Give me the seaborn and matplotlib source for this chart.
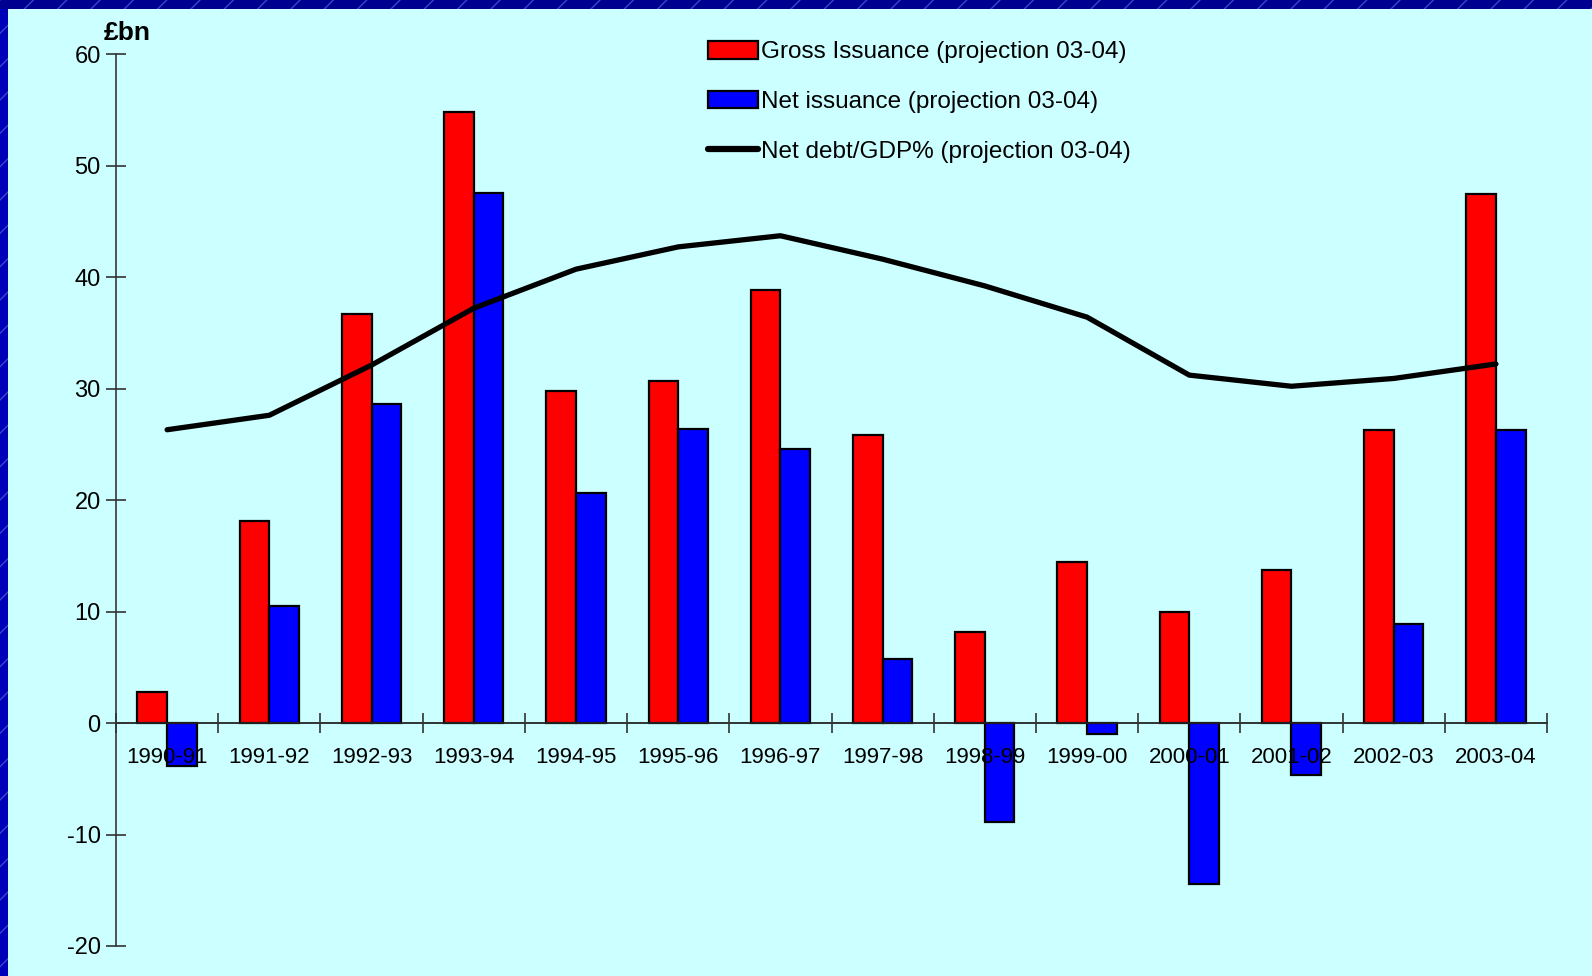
import numpy as np
import pandas as pd
import matplotlib
matplotlib.use("Agg")
import matplotlib.pyplot as plt
from matplotlib.patches import Rectangle, Patch
from matplotlib.lines import Line2D
import seaborn as sns

years = ["1990-91", "1991-92", "1992-93", "1993-94", "1994-95", "1995-96", "1996-97",
         "1997-98", "1998-99", "1999-00", "2000-01", "2001-02", "2002-03", "2003-04"]
gross = [2.8, 18.1, 36.7, 54.8, 29.8, 30.7, 38.8, 25.8, 8.2, 14.4, 10.0, 13.7, 26.3, 47.4]
net = [-3.9, 10.5, 28.6, 47.5, 20.6, 26.4, 24.6, 5.7, -8.9, -1.0, -14.4, -4.7, 8.9, 26.3]
debt_gdp = [26.3, 27.6, 32.1, 37.2, 40.7, 42.7, 43.7, 41.6, 39.2, 36.4, 31.2, 30.2, 30.9, 32.2]
labels = ["Gross Issuance (projection 03-04)", "Net issuance (projection 03-04)",
          "Net debt/GDP% (projection 03-04)"]
yticks = [-20, -10, 0, 10, 20, 30, 40, 50, 60]

sns.set_theme(style="white")
plt.rcParams['font.family'] = ['Liberation Sans', 'DejaVu Sans']
plt.rcParams['text.color'] = 'black'
plt.rcParams['xtick.color'] = 'black'
plt.rcParams['ytick.color'] = 'black'

W, H = 1592, 976
fig = plt.figure(figsize=(W / 100, H / 100), dpi=100)
fig.patch.set_facecolor('#0000b8')
# border strips
fig.patches.append(Rectangle((0, 1 - 9 / H), 1, 9 / H, transform=fig.transFigure,
                             facecolor='#000090', edgecolor='none', zorder=0))
fig.patches.append(Rectangle((0, 0), 1, 1, transform=fig.transFigure, facecolor='none',
                             edgecolor='#3848c8', hatch='/', linewidth=0, zorder=0.5))
fig.patches.append(Rectangle((8 / W, 0), 1 - 8 / W, 1 - 9 / H, transform=fig.transFigure,
                             facecolor='#ccffff', edgecolor='none', zorder=1))

ax = fig.add_axes([116 / W, 1 - 946 / H, (1547 - 116) / W, (946 - 54) / H])
ax.set_facecolor('none')
ax.set_zorder(2)

df = pd.DataFrame({
    "year": years * 2,
    "value": gross + net,
    "series": [labels[0]] * len(years) + [labels[1]] * len(years),
})
sns.barplot(data=df, x="year", y="value", hue="series", order=years,
            hue_order=labels[:2], palette=['#ff0000', '#0000ff'], width=0.58,
            edgecolor='black', linewidth=1.6, saturation=1, ax=ax, legend=False)
line_df = pd.DataFrame({"pos": np.arange(len(years)), "val": debt_gdp})
sns.lineplot(data=line_df, x="pos", y="val", color='black', linewidth=3.8, ax=ax,
             legend=False)

ax.set_axisbelow(False)
ax.set_xlim(-0.5, len(years) - 0.5)
ax.set_ylim(-20, 60)
ax.set_yticks(yticks)
ax.set_yticklabels([str(v) for v in yticks])
ax.set_xticks(np.arange(len(years)))
ax.set_xticklabels(years)
ax.set_xticks(np.arange(len(years) + 1) - 0.5, minor=True)
ax.tick_params(axis='x', which='major', length=0, pad=17.5, labelsize=16, bottom=True,
               labelcolor='black')
ax.tick_params(axis='x', which='minor', length=14, width=1.2, direction='inout',
               color='#333333', bottom=True)
ax.tick_params(axis='y', which='major', length=14, width=1.2, direction='inout',
               color='#333333', pad=4, left=True, labelsize=17, labelcolor='black')
ax.xaxis.set_zorder(5)
ax.yaxis.set_zorder(5)
ax.set_xlabel("")
ax.set_ylabel("")
for s in ['top', 'right']:
    ax.spines[s].set_visible(False)
ax.spines['bottom'].set_position(('data', 0))
ax.spines['bottom'].set_color('#222222')
ax.spines['left'].set_color('#444444')
ax.spines['bottom'].set_linewidth(1.3)
ax.spines['left'].set_linewidth(1.3)
ax.spines['bottom'].set_zorder(3)

fig.text(104 / W, 1 - 33 / H, "£bn", fontsize=19, fontweight='bold', va='center',
         ha='left', zorder=3, color='black')

handles = [Patch(facecolor='#ff0000', edgecolor='black', linewidth=1.6),
           Patch(facecolor='#0000ff', edgecolor='black', linewidth=1.6),
           Line2D([0], [0], color='black', linewidth=4.5)]
leg = fig.legend(handles, labels, loc='upper left', bbox_to_anchor=(708 / W, 1 - 41 / H),
                 frameon=False, fontsize=17.5, handlelength=2.05, handleheight=0.75,
                 handletextpad=0.15, labelspacing=1.12, borderpad=0, borderaxespad=0)
for t in leg.get_texts():
    t.set_color('black')
leg.set_zorder(5)

fig.savefig("out.png", dpi=100, facecolor=fig.get_facecolor())
